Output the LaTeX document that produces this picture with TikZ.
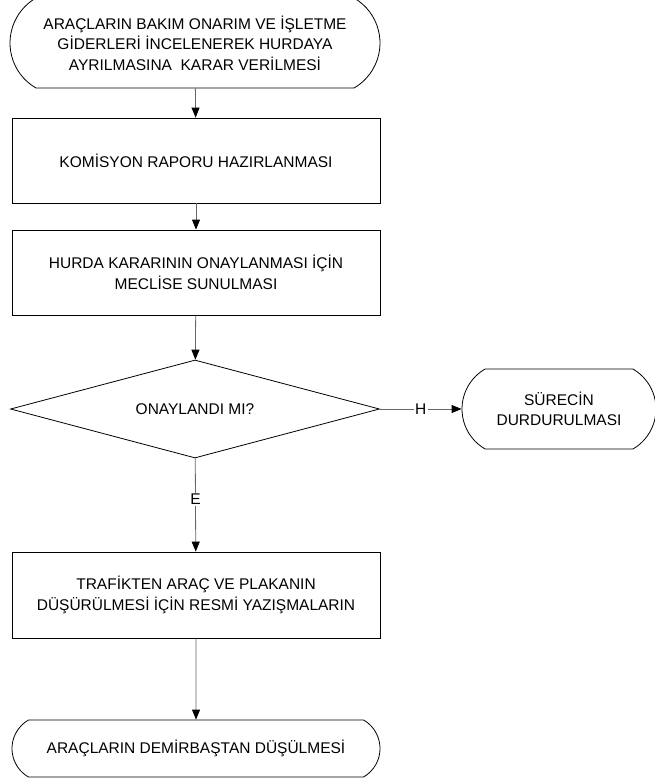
\documentclass[tikz,border=0pt]{standalone}
\usepackage{fontspec}
\setmainfont{Liberation Sans}
\usetikzlibrary{arrows.meta}
\usetikzlibrary{shapes.geometric, shapes.misc}
\usetikzlibrary{positioning}

\begin{document}
\begin{tikzpicture}[x=1pt,y=-1pt]
	\useasboundingbox (0,0) rectangle (655,782);
	\begin{scope}[every node/.style={draw, line width=0.8pt, align=center, inner sep=0pt, font=\fontsize{15.5}{20.5}\selectfont}]
		\node[rounded rectangle, rounded rectangle arc length=120, minimum width=370pt, minimum height=90pt] (1) at (195,43) {ARAÇLARIN BAKIM ONARIM VE İŞLETME\\GİDERLERİ İNCELENEREK HURDAYA\\AYRILMASINA\ \ KARAR VERİLMESİ};
		\node[rectangle, minimum width=368pt, minimum height=85pt] (2) at (196,160.5) {KOMİSYON RAPORU HAZIRLANMASI};
		\node[rectangle, minimum width=368pt, minimum height=85pt] (3) at (196,272.5) {HURDA KARARININ ONAYLANMASI İÇİN\\MECLİSE SUNULMASI};
		\node[diamond, aspect=3.77, minimum width=369pt, minimum height=98pt] (4) at (195,409) {ONAYLANDI MI?};
		\node[rounded rectangle, rounded rectangle arc length=120, minimum width=194pt, minimum height=80pt] (5) at (559,409) {SÜRECİN\\DURDURULMASI};
		\node[rectangle, minimum width=368pt, minimum height=86pt] (6) at (196,595) {TRAFİKTEN ARAÇ VE PLAKANIN\\DÜŞÜRÜLMESİ İÇİN RESMİ YAZIŞMALARIN};
		\node[rounded rectangle, rounded rectangle arc length=120, minimum width=368pt, minimum height=57pt] (7) at (196,748.5) {ARAÇLARIN DEMİRBAŞTAN DÜŞÜLMESİ};
	\end{scope}

	\begin{scope}[>={Triangle[black, length=10pt, width=8pt]},
	              every node/.style={fill=white, inner sep=1.5pt, font=\fontsize{15.5}{17}\selectfont},
	              every edge/.style={draw=black!60, line width=0.8pt, ->}]
		\path (1) edge (2);
		\path (2) edge (3);
		\path (3) edge (4);
		\path (4) edge node[pos=0.5] {H} (5);
		\path (4) edge node[pos=0.44] {E} (6);
		\path (6) edge (7);
	\end{scope}
\end{tikzpicture}
\end{document}
